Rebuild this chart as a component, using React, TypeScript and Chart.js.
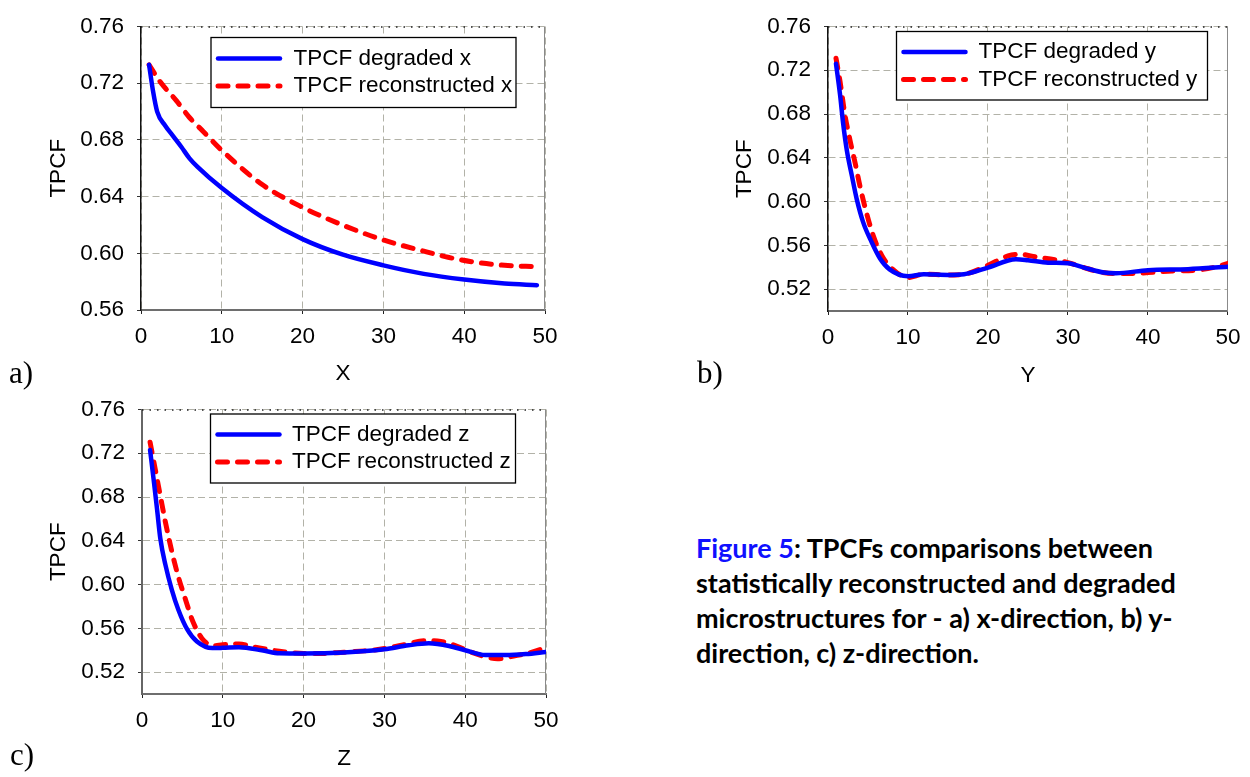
import React, { useEffect, useRef } from "react";
import { Chart, registerables } from "chart.js";

Chart.register(...registerables);

// ---------- data ----------
const xTickValues = [0, 10, 20, 30, 40, 50];
const yTickValuesA = [0.56, 0.6, 0.64, 0.68, 0.72, 0.76];
const yTickValuesBC = [0.52, 0.56, 0.6, 0.64, 0.68, 0.72, 0.76];

// a) x-direction
const degXpos = [1, 1.5, 2, 3, 4, 5, 6, 7, 10, 15, 20, 25, 30, 35, 40, 45, 49];
const degXval = [0.733, 0.714, 0.7, 0.69, 0.6825, 0.675, 0.667, 0.661, 0.646, 0.6255, 0.61, 0.599, 0.5915, 0.5855, 0.5815, 0.5787, 0.5775];
const recXpos = [1, 2.3, 4.4, 6, 7.7, 10, 15, 20, 25, 30, 35, 38, 41, 45, 49];
const recXval = [0.733, 0.7215, 0.7075, 0.6958, 0.686, 0.6726, 0.6485, 0.6324, 0.6198, 0.6094, 0.6015, 0.5972, 0.594, 0.5915, 0.5905];

// b) y-direction
const degYpos = [1, 1.5, 1.9, 2.35, 3, 3.6, 4.4, 5.45, 6.5, 7.7, 10, 12, 15, 17, 20, 23.5, 25, 27.5, 30, 32, 34.5, 36, 40, 45, 50];
const degYval = [0.726, 0.698, 0.671, 0.647, 0.623, 0.602, 0.581, 0.563, 0.548, 0.538, 0.5318, 0.5336, 0.533, 0.5336, 0.5397, 0.5473, 0.5464, 0.5442, 0.5436, 0.5397, 0.5351, 0.5345, 0.5373, 0.5382, 0.5405];
const recYpos = [1, 1.5, 2.1, 2.75, 3.4, 4, 4.8, 5.65, 6.7, 8.1, 10, 12, 15, 17, 20, 22.5, 24, 26, 28.5, 30, 32, 34, 36, 38, 40, 43, 46, 48.5, 50];
const recYval = [0.731, 0.71, 0.68, 0.656, 0.635, 0.614, 0.59, 0.569, 0.551, 0.538, 0.5306, 0.5336, 0.533, 0.5336, 0.5418, 0.5503, 0.5518, 0.5494, 0.5466, 0.5442, 0.5397, 0.5357, 0.5342, 0.5342, 0.5351, 0.5366, 0.5373, 0.5403, 0.5436];

// c) z-direction
const degZpos = [1, 1.44, 1.86, 2.27, 2.9, 3.7, 4.5, 5.6, 6.8, 8.7, 10, 12, 15, 17, 20, 25, 30, 33, 35.5, 38, 40, 42.5, 45, 47.5, 50];
const degZval = [0.723, 0.696, 0.669, 0.642, 0.618, 0.595, 0.577, 0.559, 0.548, 0.542, 0.5422, 0.5427, 0.5397, 0.5372, 0.537, 0.5379, 0.5409, 0.5445, 0.5463, 0.5439, 0.54, 0.5356, 0.5356, 0.5365, 0.5385];
const recZpos = [1, 1.65, 2.27, 2.9, 3.7, 4.5, 5.4, 6.2, 7.4, 8.9, 10, 12, 14, 17, 20, 22, 25, 28, 30, 32.5, 35, 37, 39, 41, 43, 44, 46, 48, 50];
const recZval = [0.73, 0.705, 0.681, 0.657, 0.63, 0.607, 0.586, 0.568, 0.551, 0.544, 0.5451, 0.5457, 0.5427, 0.5391, 0.537, 0.537, 0.5382, 0.5397, 0.5415, 0.5451, 0.5487, 0.548, 0.5436, 0.5376, 0.5332, 0.5323, 0.5347, 0.5376, 0.5425];

const degradedLabels = ["TPCF degraded x", "TPCF degraded y", "TPCF degraded z"];
const reconstructedLabels = ["TPCF reconstructed x", "TPCF reconstructed y", "TPCF reconstructed z"];
const axisTitles = ["X", "Y", "Z"];

// ---------- styling ----------
const FONT_FAMILY = "'Liberation Sans', Arial, Helvetica, sans-serif";
const FONT_SIZE = 22.5;
const BLUE = "#0000ff";
const RED = "#ff0000";
const GRID = "#b2b2a8";

const toPoints = (xs: number[], ys: number[]) => xs.map((x, i) => ({ x, y: ys[i] }));

type LegendCfg = { x: number; y: number; w: number; h: number; rows: number[]; lx1: number; lx2: number; tx: number };

type PanelCfg = {
  left: number; top: number; width: number; height: number;
  pad: { top: number; right: number; bottom: number; left: number };
  yWidth: number; xHeight: number;
  yMin: number; yTicks: number[];
  deg: { x: number; y: number }[]; rec: { x: number; y: number }[];
  idx: number;
  yTitlePad: number; xTitlePad: number;
  legend: LegendCfg;
  leftAxisColor: string; leftAxisWidth: number;
};

function Panel(p: PanelCfg) {
  const ref = useRef<HTMLCanvasElement | null>(null);
  useEffect(() => {
    if (!ref.current) return;
    const font = { family: FONT_FAMILY, size: FONT_SIZE };
    const legendPlugin = {
      id: "boxLegend",
      afterDraw(chart: any) {
        const ctx = chart.ctx as CanvasRenderingContext2D;
        const L = p.legend;
        ctx.save();
        ctx.fillStyle = "#ffffff";
        ctx.fillRect(L.x, L.y, L.w, L.h);
        ctx.strokeStyle = "#000000";
        ctx.lineWidth = 1.3;
        ctx.setLineDash([]);
        ctx.strokeRect(L.x, L.y, L.w, L.h);
        chart.data.datasets.forEach((ds: any, i: number) => {
          const ry = L.rows[i];
          ctx.beginPath();
          ctx.setLineDash(ds.borderDash || []);
          ctx.lineCap = "round";
          ctx.strokeStyle = ds.borderColor;
          ctx.lineWidth = ds.borderWidth;
          ctx.moveTo(L.lx1, ry);
          ctx.lineTo(L.lx2, ry);
          ctx.stroke();
          ctx.setLineDash([]);
          ctx.fillStyle = "#000";
          ctx.font = `${FONT_SIZE}px ${FONT_FAMILY}`;
          ctx.textBaseline = "middle";
          ctx.textAlign = "left";
          ctx.fillText(ds.label, L.tx, ry);
        });
        ctx.restore();
      },
    };
    const framePlugin = {
      id: "frame",
      beforeDatasetsDraw(chart: any) {
        const { ctx, chartArea } = chart;
        ctx.save();
        ctx.strokeStyle = "#222";
        ctx.lineWidth = 1.5;
        ctx.setLineDash([1.5, 6]);
        ctx.beginPath();
        ctx.moveTo(chartArea.left, chartArea.top + 0.5);
        ctx.lineTo(chartArea.right, chartArea.top + 0.5);
        ctx.stroke();
        ctx.setLineDash([]);
        ctx.strokeStyle = "#8a8a8a";
        ctx.lineWidth = 1;
        ctx.beginPath();
        ctx.moveTo(chartArea.right - 0.5, chartArea.top);
        ctx.lineTo(chartArea.right - 0.5, chartArea.bottom);
        ctx.stroke();
        ctx.restore();
      },
    };
    const chart = new Chart(ref.current, {
      type: "line",
      data: {
        datasets: [
          {
            label: degradedLabels[p.idx],
            data: p.deg,
            borderColor: BLUE,
            backgroundColor: BLUE,
            borderWidth: 4.5,
            pointRadius: 0,
            cubicInterpolationMode: "monotone",
            borderCapStyle: "round",
            borderJoinStyle: "round",
            fill: false,
          },
          {
            label: reconstructedLabels[p.idx],
            data: p.rec,
            borderColor: RED,
            backgroundColor: RED,
            borderWidth: 5,
            borderDash: [10, 10],
            pointRadius: 0,
            cubicInterpolationMode: "monotone",
            borderCapStyle: "round",
            borderJoinStyle: "round",
            fill: false,
          },
        ],
      },
      options: {
        animation: false,
        responsive: false,
        maintainAspectRatio: false,
        devicePixelRatio: 1,
        layout: { padding: p.pad },
        plugins: { legend: { display: false }, tooltip: { enabled: false }, title: { display: false } },
        scales: {
          x: {
            type: "linear",
            min: 0,
            max: 50,
            afterBuildTicks: (s: any) => {
              s.ticks = xTickValues.map((v) => ({ value: v }));
            },
            afterFit: (s: any) => {
              s.height = p.xHeight;
            },
            ticks: {
              font,
              color: "#000",
              padding: 9.5,
              maxRotation: 0,
              autoSkip: false,
              callback: (v: any) => String(v),
            },
            grid: {
              color: GRID,
              lineWidth: 1,
              drawTicks: true,
              tickLength: 4,
              tickColor: "#222",
              tickWidth: 1,
              tickBorderDash: [],
            },
            border: { display: true, color: "#6e6e6e", width: 2, dash: [7, 4] },
            title: { display: true, text: axisTitles[p.idx], font, color: "#000", padding: { top: 0, bottom: p.xTitlePad } },
          },
          y: {
            type: "linear",
            min: p.yMin,
            max: 0.76,
            afterBuildTicks: (s: any) => {
              s.ticks = p.yTicks.map((v) => ({ value: v }));
            },
            afterFit: (s: any) => {
              s.width = p.yWidth;
            },
            ticks: {
              font,
              color: "#000",
              padding: 13,
              autoSkip: false,
              callback: (v: any) => Number(v).toFixed(2),
            },
            grid: {
              color: GRID,
              lineWidth: 1,
              drawTicks: true,
              tickLength: 4,
              tickColor: "#333",
              tickWidth: 1,
              tickBorderDash: [],
            },
            border: { display: true, color: p.leftAxisColor, width: p.leftAxisWidth, dash: [7, 4] },
            title: { display: true, text: "TPCF", font, color: "#000", padding: { top: p.yTitlePad, bottom: 0 } },
          },
        },
      } as any,
      plugins: [framePlugin, legendPlugin],
    });
    return () => chart.destroy();
  }, []);
  return (
    <canvas
      ref={ref}
      width={p.width}
      height={p.height}
      style={{ position: "absolute", left: p.left, top: p.top, width: p.width, height: p.height }}
    />
  );
}

const panels: PanelCfg[] = [
  {
    left: 0, top: 0, width: 600, height: 400,
    pad: { top: 20, right: 55, bottom: 10, left: 0 },
    yWidth: 141, xHeight: 80,
    yMin: 0.56, yTicks: yTickValuesA,
    deg: toPoints(degXpos, degXval), rec: toPoints(recXpos, recXval),
    idx: 0, yTitlePad: 45.5, xTitlePad: 3,
    legend: { x: 211, y: 37.5, w: 305, h: 70, rows: [58.5, 86], lx1: 218, lx2: 280, tx: 293.5 },
    leftAxisColor: "#111", leftAxisWidth: 1.5,
  },
  {
    left: 690, top: 0, width: 560, height: 400,
    pad: { top: 21, right: 18, bottom: 9, left: 0 },
    yWidth: 138, xHeight: 80,
    yMin: 0.5, yTicks: yTickValuesBC,
    deg: toPoints(degYpos, degYval), rec: toPoints(recYpos, recYval),
    idx: 1, yTitlePad: 41.5, xTitlePad: 2,
    legend: { x: 206.5, y: 31.5, w: 311, h: 68.5, rows: [52, 79.5], lx1: 213.5, lx2: 275.5, tx: 288.5 },
    leftAxisColor: "#111", leftAxisWidth: 1.5,
  },
  {
    left: 0, top: 383, width: 600, height: 394,
    pad: { top: 20, right: 54, bottom: 3, left: 0 },
    yWidth: 142, xHeight: 80,
    yMin: 0.5, yTicks: yTickValuesBC,
    deg: toPoints(degZpos, degZval), rec: toPoints(recZpos, recZval),
    idx: 2, yTitlePad: 45.5, xTitlePad: 2,
    legend: { x: 210.5, y: 31, w: 305, h: 69, rows: [51.5, 79], lx1: 217.5, lx2: 279.5, tx: 292 },
    leftAxisColor: "#666", leftAxisWidth: 2,
  },
];

const panelLetters = [
  { text: "a)", left: 9, top: 356.5 },
  { text: "b)", left: 697, top: 356.5 },
  { text: "c)", left: 10, top: 738.5 },
];

const captionLines = [
  "TPCFs comparisons between",
  "statistically reconstructed and degraded",
  "microstructures for - a) x-direction, b) y-",
  "direction, c) z-direction.",
];

export default function App() {
  return (
    <div
      style={{
        position: "absolute",
        left: 0,
        top: 0,
        width: 1250,
        height: 777,
        overflow: "hidden",
        background: "#ffffff",
      }}
    >
      {panels.map((p, i) => (
        <Panel key={i} {...p} />
      ))}
      {panelLetters.map((l, i) => (
        <div
          key={i}
          style={{
            position: "absolute",
            left: l.left,
            top: l.top,
            fontFamily: "'Liberation Serif', 'Times New Roman', serif",
            fontSize: 31,
            lineHeight: "31px",
            color: "#000",
            whiteSpace: "nowrap",
          }}
        >
          {l.text}
        </div>
      ))}
      <div
        style={{
          position: "absolute",
          left: 696,
          top: 530,
          fontFamily: "Lato, 'Open Sans', sans-serif",
          fontWeight: 700,
          fontSize: 27,
          lineHeight: "35px",
          color: "#000",
          whiteSpace: "nowrap",
        }}
      >
        {captionLines.map((line, i) => (
          <div key={i}>
            {i === 0 ? (
              <>
                <span style={{ color: "#1010ff" }}>Figure 5</span>: {line}
              </>
            ) : (
              line
            )}
          </div>
        ))}
      </div>
    </div>
  );
}
